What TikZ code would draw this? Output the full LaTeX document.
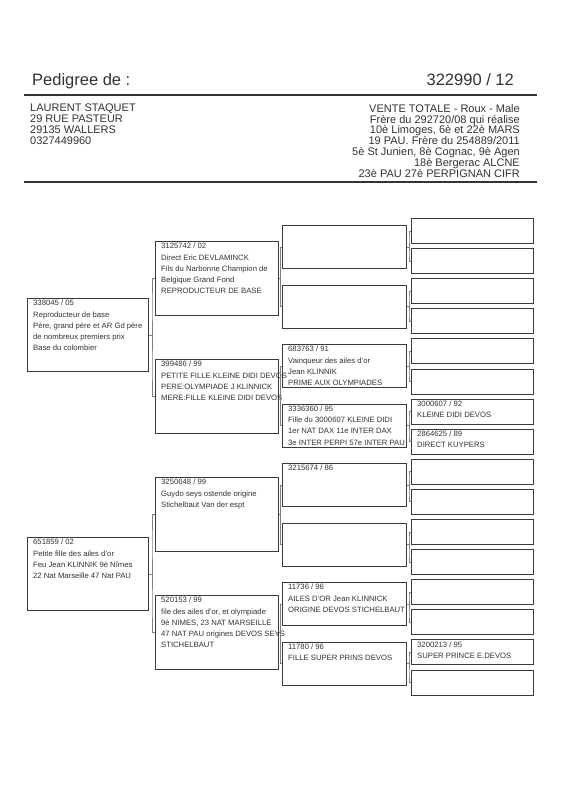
\documentclass[tikz,border=0pt]{standalone}
\usepackage{fontspec}
\setmainfont{Liberation Sans}
\usetikzlibrary{calc}
\definecolor{ink}{HTML}{333333}
\definecolor{boxline}{HTML}{3A3A3A}
\definecolor{linkline}{HTML}{808080}
\begin{document}
\begin{tikzpicture}[x=1pt,y=-1pt,
  pbox/.style 2 args={draw=boxline, line width=1pt, anchor=north west, inner sep=0pt,
    minimum width=#1, minimum height=#2, rectangle},
  c1box/.style={pbox={121}{73}},
  c2box/.style={pbox={123}{74}},
  c3box/.style={pbox={124}{43}},
  c4box/.style={pbox={122}{25}},
  txt/.style={anchor=north west, inner sep=0pt, align=left, text=ink,
    font=\fontsize{7.7}{11.3}\selectfont},
  link/.style={draw=linkline, line width=1pt},
  rulel/.style={draw=ink, line width=1.1pt}]
\useasboundingbox (0,0) rectangle (566,800);
\fill[white] (0,0) rectangle (566,800);

% header
\node[anchor=base west, inner sep=0pt, text=ink, font=\fontsize{16.5}{18}\selectfont] (title) at (32,85) {Pedigree de :};
\node[anchor=base east, inner sep=0pt, text=ink, font=\fontsize{16.5}{18}\selectfont] (ring) at (514,85) {322990 / 12};
\draw[rulel] (24,95) -- (537,95);
\node[anchor=north west, inner sep=0pt, align=left, text=ink, font=\fontsize{11}{10.85}\selectfont] (owner) at (30,104)
  {LAURENT STAQUET\\29 RUE PASTEUR\\29135 WALLERS\\0327449960};
\node[anchor=north east, inner sep=0pt, align=right, text=ink, font=\fontsize{11}{10.85}\selectfont] (info) at (520,104)
  {VENTE TOTALE - Roux - Male\\Frère du 292720/08 qui réalise\\10è Limoges, 6è et 22è MARS\\19 PAU. Frère du 254889/2011\\5è St Junien, 8è Cognac, 9è Agen\\18è Bergerac ALCNE\\23è PAU 27è PERPIGNAN CIFR};
\draw[rulel] (24,182) -- (537,182);

% column 1
\node[c1box] (a1) at (27,298) {};
\node[c1box] (a2) at (27,537) {};
% column 2
\node[c2box] (b1) at (155,241) {};
\node[c2box] (b2) at (155,359) {};
\node[c2box] (b3) at (155,477) {};
\node[c2box] (b4) at (155,595) {};
% column 3
\foreach \i in {1,...,8}{
  \node[c3box] (c\i) at (282,{225+59.5*(\i-1)}) {};
}
% column 4
\foreach \i in {1,...,16}{
  \node[c4box] (d\i) at (411,{218+30.1*(\i-1)}) {};
}

% texts
\node[txt] (ta1) at ($(a1.north west)+(6,2)$) {338045 / 05\\Reproducteur de base\\Père, grand père et AR Gd père\\de nombreux premiers prix\\Base du colombier};
\node[txt] (ta2) at ($(a2.north west)+(6,2)$) {651859 / 02\\Petite fille des ailes d'or\\Feu Jean KLINNIK 9è Nîmes\\22 Nat Marseille 47 Nat PAU};
\node[txt] (tb1) at ($(b1.north west)+(6,2)$) {3125742 / 02\\Direct Eric DEVLAMINCK\\Fils du Narbonne Champion de\\Belgique Grand Fond\\REPRODUCTEUR DE BASE};
\node[txt] (tb2) at ($(b2.north west)+(6,2)$) {399486 / 99\\PETITE FILLE KLEINE DIDI DEVOS\\PERE:OLYMPIADE J KLINNICK\\MERE:FILLE KLEINE DIDI DEVOS};
\node[txt] (tb3) at ($(b3.north west)+(6,2)$) {3250648 / 99\\Guydo seys ostende origine\\Stichelbaut Van der espt};
\node[txt] (tb4) at ($(b4.north west)+(6,2)$) {520153 / 99\\file des ailes d'or, et olympiade\\9è NIMES, 23 NAT MARSEILLE\\47 NAT PAU origines DEVOS SEYS\\STICHELBAUT};
\node[txt] (tc3) at ($(c3.north west)+(6,2)$) {683763 / 91\\Vainqueur des ailes d'or\\Jean KLINNIK\\PRIME AUX OLYMPIADES};
\node[txt] (tc4) at ($(c4.north west)+(6,2)$) {3336360 / 95\\Fille du 3000607 KLEINE DIDI\\1er NAT DAX 11e INTER DAX\\3e INTER PERPI 57e INTER PAU};
\node[txt] (tc5) at ($(c5.north west)+(6,2)$) {3215674 / 86};
\node[txt] (tc7) at ($(c7.north west)+(6,2)$) {11736 / 96\\AILES D'OR Jean KLINNICK\\ORIGINE DEVOS STICHELBAUT};
\node[txt] (tc8) at ($(c8.north west)+(6,2)$) {11780 / 96\\FILLE SUPER PRINS DEVOS};
\node[txt] (td7) at ($(d7.north west)+(6,2)$) {3000607 / 92\\KLEINE DIDI DEVOS};
\node[txt] (td8) at ($(d8.north west)+(6,2)$) {2864625 / 89\\DIRECT KUYPERS};
\node[txt] (td15) at ($(d15.north west)+(6,2)$) {3200213 / 95\\SUPER PRINCE E.DEVOS};

% connectors
\foreach \p/\s/\d in {a1/b1/b2, a2/b3/b4, b1/c1/c2, b2/c3/c4, b3/c5/c6, b4/c7/c8,
   c1/d1/d2, c2/d3/d4, c3/d5/d6, c4/d7/d8, c5/d9/d10, c6/d11/d12, c7/d13/d14, c8/d15/d16}{
  \draw[link] (\p.east) -| ($(\p.east)!.5!(\s.west)$) |- (\s.west);
  \draw[link] (\p.east) -| ($(\p.east)!.5!(\d.west)$) |- (\d.west);
}
\end{tikzpicture}
\end{document}
